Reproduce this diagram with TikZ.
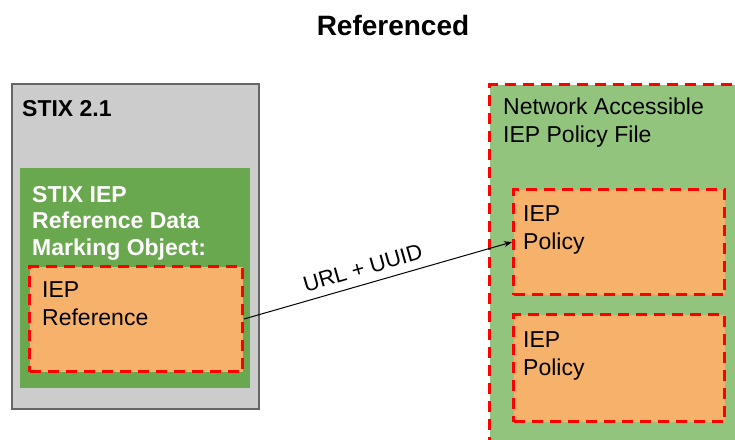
\documentclass[tikz,border=0pt]{standalone}
\usepackage{fontspec}
\setmainfont{Liberation Sans}
\usetikzlibrary{arrows.meta}
\definecolor{grayfill}{HTML}{CCCCCC}
\definecolor{grayline}{HTML}{666666}
\definecolor{darkgreen}{HTML}{6AA84F}
\definecolor{lightgreen}{HTML}{93C47D}
\definecolor{orangefill}{HTML}{F6B26B}
\definecolor{reddash}{HTML}{FF0000}
\tikzset{
  box/.style={rectangle, inner sep=0pt, anchor=north west},
  reddashed/.style={draw=reddash, line width=3pt, dash pattern=on 11pt off 7pt},
  txt/.style={inner sep=0pt, anchor=north west, align=left, font=\fontsize{23}{28}\selectfont},
}
\begin{document}
\begin{tikzpicture}[x=1pt, y=-1pt]
\useasboundingbox (0,0) rectangle (735,439);
\clip (0,0) rectangle (735,439);
% title
\node[inner sep=0pt, anchor=base, font=\fontsize{28}{32}\selectfont\bfseries] (title) at (393,35) {Referenced};
% left
\node[box, fill=grayfill, draw=grayline, line width=1.5pt, minimum width=247pt, minimum height=325pt] (stix) at (11,83) {};
\node[box, fill=darkgreen, minimum width=230pt, minimum height=220pt] (marking) at (20,168) {};
\node[box, fill=orangefill, reddashed, minimum width=213pt, minimum height=105pt] (ref) at (28,265) {};
\node[txt, font=\fontsize{23}{28}\selectfont\bfseries] (stixlbl) at (22,100) {STIX 2.1};
\node[txt, text=white, font=\fontsize{23}{26.5}\selectfont\bfseries] (marklbl) at (32,186) {STIX IEP\\Reference Data\\Marking Object:};
\node[txt] (reflbl) at (42,281) {IEP\\Reference};
% right
\node[box, fill=lightgreen, reddashed, minimum width=260pt, minimum height=370pt] (file) at (488,83) {};
\node[box, fill=orangefill, reddashed, minimum width=211pt, minimum height=105pt] (pol1) at (512,188) {};
\node[box, fill=orangefill, reddashed, minimum width=211pt, minimum height=107pt] (pol2) at (512,313) {};
\node[txt] (filelbl) at (503,98) {Network Accessible\\IEP Policy File};
\node[txt] (pol1lbl) at (523,205) {IEP\\Policy};
\node[txt] (pol2lbl) at (523,331) {IEP\\Policy};
% connector
\draw[line width=1pt, -{Stealth[length=8pt,width=6pt]}] (ref.east) -- node[pos=0.46, sloped, above, inner sep=8pt, font=\fontsize{22}{26}\selectfont] (url) {URL + UUID} (pol1.west);
\end{tikzpicture}
\end{document}
